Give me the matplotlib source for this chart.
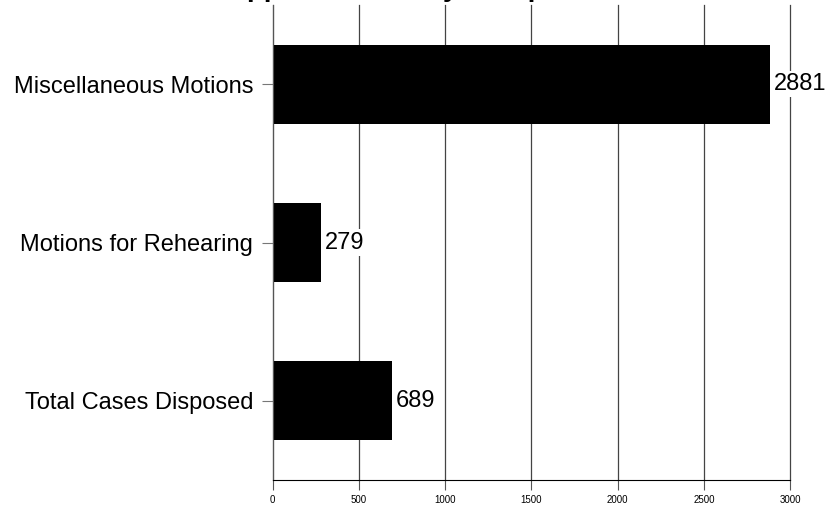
import matplotlib.pyplot as plt

# data
categories = ["Total Cases Disposed", "Motions for Rehearing", "Miscellaneous Motions"]
values = [689, 279, 2881]
xticks = [0, 500, 1000, 1500, 2000, 2500, 3000]
title = "Appellate Activity Comparison"

plt.rcParams["font.family"] = ["Liberation Sans", "DejaVu Sans"]

fig = plt.figure(figsize=(8.29, 5.08), dpi=100)
ax = fig.add_axes([0.329, 0.055, 0.624, 0.935])

ypos = range(len(categories))
ax.barh(ypos, values, height=0.5, color="black", zorder=2)

for y, v in zip(ypos, values):
    ax.text(v + 25, y, str(v), va="center", ha="left", fontsize=17, zorder=4,
            bbox=dict(facecolor="white", edgecolor="none", pad=1.5))

ax.set_xlim(0, 3000)
ax.set_ylim(-0.5, 2.5)
ax.set_yticks(list(ypos))
ax.set_yticklabels(categories, fontsize=17)
ax.set_xticks(xticks)
ax.set_xticklabels([str(t) for t in xticks], fontsize=7,
                   family=["Liberation Sans Narrow", "Liberation Sans"])

ax.grid(axis="x", color="#444444", linewidth=0.9, zorder=0)
for gl in ax.get_xgridlines():
    gl.set_clip_on(False)
for s in ["top", "right"]:
    ax.spines[s].set_visible(False)
ax.spines["left"].set_color("#555555")
ax.spines["bottom"].set_color("black")
ax.tick_params(axis="y", length=8, color="#777777", pad=6)
ax.tick_params(axis="x", length=7, color="#555555", pad=4)

# title sits above the canvas, only descenders show
fig.text(0.515, 1.0 + 4.5 / 508, title, ha="center", va="baseline", fontsize=20,
         fontweight="bold")

fig.savefig("out.png", dpi=100)
